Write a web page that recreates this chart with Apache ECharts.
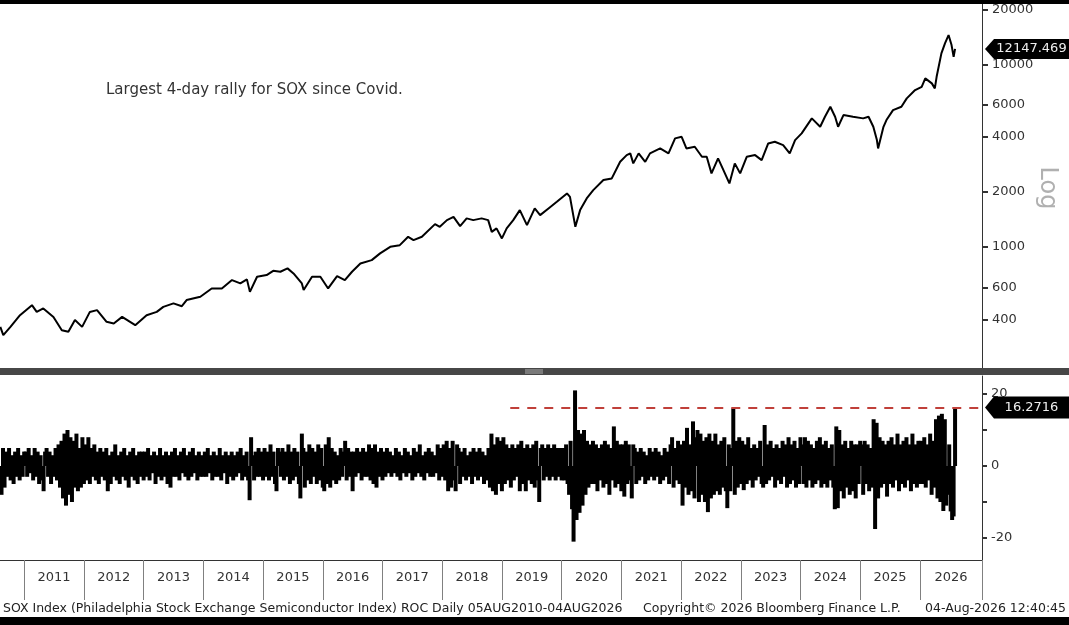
<!DOCTYPE html>
<html>
<head>
<meta charset="utf-8">
<script src="https://cdn.jsdelivr.net/npm/echarts@6.0.0/dist/echarts.min.js"></script>
<style>
html,body{margin:0;padding:0;background:#fff;}
#chart{width:1069px;height:625px;}
</style>
</head>
<body>
<div id="chart"></div>
<script>
// ---- Price (SOX index), dates in decimal years ----
const priceDates = [
2010.60,2010.65,2010.77,2010.93,2011.13,2011.21,2011.32,2011.49,2011.63,2011.74,2011.85,2011.97,
2012.10,2012.22,2012.38,2012.50,2012.64,2012.86,2013.05,2013.22,2013.33,2013.50,2013.64,2013.72,2013.95,
2014.14,2014.31,2014.48,2014.62,2014.73,2014.78,2014.90,2015.06,2015.17,2015.29,2015.41,2015.51,2015.65,2015.68,2015.82,2015.96,
2016.09,2016.24,2016.37,2016.49,2016.63,2016.82,2016.96,2017.13,2017.29,2017.43,2017.52,2017.66,2017.88,2017.96,
2018.08,2018.19,2018.30,2018.41,2018.52,2018.66,2018.77,2018.83,2018.91,2019.00,2019.08,2019.19,2019.30,2019.42,2019.55,2019.64,2019.78,2019.92,
2020.09,2020.14,2020.23,2020.31,2020.42,2020.53,2020.70,2020.84,2020.98,2021.09,2021.15,2021.20,2021.29,2021.40,2021.48,2021.65,2021.79,2021.90,
2022.01,2022.09,2022.23,2022.35,2022.43,2022.51,2022.62,2022.71,2022.81,2022.90,2022.99,2023.10,2023.24,2023.35,2023.46,2023.57,2023.71,2023.82,2023.91,
2024.02,2024.19,2024.33,2024.41,2024.50,2024.58,2024.63,2024.72,2024.88,2025.05,2025.14,2025.22,2025.28,2025.30,2025.39,2025.44,2025.55,2025.69,2025.78,2025.92,
2026.03,2026.09,2026.20,2026.25,2026.28,2026.36,2026.42,2026.48,2026.53,2026.565,2026.589
];
const priceValues = [
366,330,366,424,481,442,462,415,351,344,399,366,
442,452,390,382,415,374,424,442,471,492,475,513,535,
594,594,660,633,666,569,688,703,742,733,765,718,633,582,688,688,
594,694,660,733,814,849,924,1004,1025,1139,1092,1139,1336,1291,
1405,1465,1303,1436,1405,1436,1405,1212,1266,1116,1266,1405,1594,1320,1628,1497,1628,1770,
1967,1885,1291,1594,1847,2051,2327,2377,2930,3188,3258,2872,3258,2930,3258,3469,3258,3936,
4016,3469,3540,3121,3121,2532,3059,2639,2232,2872,2532,3121,3188,2994,3694,3771,3616,3258,3852,
4191,5064,4555,5167,5860,5167,4555,5279,5167,5064,5167,4555,3852,3469,4555,4957,5622,5860,6515,7234,
7541,8381,7870,7390,8553,11486,13026,14467,12756,11000,12147.469
];
const priceTicks = [400,600,1000,2000,4000,6000,10000,20000];
const priceMin = 218, priceMax = 21400;

// ---- 4-day ROC (%), one array per calendar year ----
const roc2010 = [-8,5,-6,4,-3,5,-4,3,-5,4,-3,5,-4,3,-3,4];
const roc2011 = [4,-3,5,-2,3,-4,5,-3,4,-5,3,-4,-7,4,5,-3,4,-5,3,-3,5,-4,6,-6,7,-9,9,-11,10,-8,8,-10,7,-6,9,-7,5,-6,8,-5];
const roc2012 = [6,-4,8,-5,5,-3,6,-4,4,-5,5,-3,4,-4,5,-7,3,-5,4,-3,6,-4,3,-5,4,-3,5,-4,3,-6,4,-3,5,-4,3,-5,4,-3,4,-4];
const roc2013 = [4,-3,5,-4,3,-2,4,-5,3,-3,5,-4,3,-3,4,-5,3,-6,4,-3,5,-3,3,-4,4,-2,5,-3,3,-4,4,-3,5,-2,3,-4,4,-3,3,-3];
const roc2014 = [4,-3,5,-2,3,-4,4,-3,3,-3,5,-4,3,-2,4,-5,3,-3,4,-4,3,-3,4,-2,5,-4,3,-3,4,-4,-9.5,8,3,-4,4,-3,5,-3,4,-4];
const roc2015 = [5,-3,4,-4,6,-3,4,-5,-7,5,4,-3,5,-4,4,-3,6,-5,4,-4,5,-3,4,-5,-9,9,5,-6,4,-4,6,-5,5,-3,4,-5,6,-4,5,-6];
const roc2016 = [-7,6,-5,8,-6,5,-4,4,-5,3,-4,5,-3,4,7,-4,5,-3,4,-7,4,-3,5,-2,4,-4,5,-3,4,-3,6,-4,5,-5,6,-6,4,-3,5,-4];
const roc2017 = [4,-3,5,-2,4,-3,3,-2,5,-3,4,-4,3,-2,5,-3,4,-2,3,-4,5,-3,4,-2,6,-3,3,-4,4,-2,5,-3,4,-3,3,-2,6,-4,5,-3];
const roc2018 = [6,-4,7,-7,5,-6,7,-4,-7,6,5,-5,4,-3,5,-4,3,-3,4,-5,5,-3,4,-4,5,-3,4,-5,3,-4,5,-6,9,-7,6,-8,8,-5,7,-7];
const roc2019 = [8,-5,6,-4,5,-6,6,-4,5,-3,6,-7,7,-5,5,-7,6,-4,5,-5,6,-6,7,-4,-10,5,6,-4,5,-3,6,-4,5,-3,6,-4,5,-3,5,-4];
const roc2020 = [5,-4,6,-5,-8,7,-12,-21,21,-15,10,-13,9,-11,10,-8,7,-6,6,-5,7,-5,6,-7,5,-4,6,-6,7,-5,6,-8,5,-4,11,-6,7,-5,6,-7];
const roc2021 = [6,-8.5,7,-5,6,-4,-9,6,5,-5,4,-4,5,-3,4,-5,3,-4,5,-3,4,-4,5,-3,4,-5,3,-4,5,-3,4,-5,6,8,-6,5,-4,7,-5,6];
const roc2022 = [-11,7,-6,10.6,-8,6,-7,12.4,-9,8,10,-10,9,-8,7,-10,8,-12.8,9,-9,7,-8,9,-7,6,-8,7,-6,8,-7,-11.7,6,-7,5,16,-8,7,-6,8,-5];
const roc2023 = [7,-6.7,6,-5,8,-4,5,-6,6,-4,5,-3,7,-5,-6,11.4,-5,6,-4,7,-3,5,-6,6,-4,5,-5,7,-3,6,-6,8,-5,6,-4,7,-6,5,-5,8];
const roc2024 = [6,-5,8,-6,7,-4,6,-6,5,-5,7,-4,8,-6,6,-5,7,-6,5,-4,6,-6,-12,11,-11.7,10,-7,6,-9,7,-6,5,-8,7,-7,6,-9,6,-5,7];
const roc2025 = [6,-8,7,-5,6,-7,5,-6,13,-17.5,12,-9,8,-6,7,-5,6,-8.5,7,-5,8,-6,6,-4,9,-7,6,-5,7,-6,8,-4,6,-7,9,-5,6,-6,7,-5];
const roc2026 = [7,-5,8,-6,6,-4,9,-8,7,-6,13,-9,14,-10,14.5,-12.5,13,-11,-8,6,-12.6,-15,-14,16.2716];
const rocYears = [2010,2011,2012,2013,2014,2015,2016,2017,2018,2019,2020,2021,2022,2023,2024,2025,2026];
const rocArrays = [roc2010,roc2011,roc2012,roc2013,roc2014,roc2015,roc2016,roc2017,roc2018,roc2019,roc2020,roc2021,roc2022,roc2023,roc2024,roc2025,roc2026];
const dataStart = 2010.595, dataEnd = 2026.589;   // 05AUG2010 - 04AUG2026
const dashFrom = 2019.14;
const axisMin = 2010.595, axisMax = 2027.04;
const yearTicks = [2011,2012,2013,2014,2015,2016,2017,2018,2019,2020,2021,2022,2023,2024,2025,2026];
const yearLabelPos = [2011.5,2012.5,2013.5,2014.5,2015.5,2016.5,2017.5,2018.5,2019.5,2020.5,2021.5,2022.5,2023.5,2024.5,2025.5,2026.52];
const rocTicks = [-20,-10,0,10,20];
const rocLabels = [-20,0,20];
const rocMin = -26.1, rocMax = 25.0;

// ---- build series data ----
const priceData = priceDates.map((d,i)=>[d, priceValues[i]]);
const rocData = [];
rocArrays.forEach((arr, k) => {
  const s = Math.max(rocYears[k], dataStart), e = Math.min(rocYears[k]+1, dataEnd);
  arr.forEach((v,i)=> rocData.push([s + (i+1)*(e-s)/arr.length, v]));
});
const lastPrice = priceValues[priceValues.length-1];
const lastRoc = rocData[rocData.length-1][1];

const FONT = 'DejaVu Sans';
const chart = echarts.init(document.getElementById('chart'), null, {renderer:'canvas'});
const option = {
  animation: false,
  backgroundColor: '#ffffff',
  grid: [
    {left: 0, right: 87, top: 4, height: 364},
    {left: 0, right: 87, top: 376, height: 184}
  ],
  xAxis: [
    {type:'value', gridIndex:0, min:axisMin, max:axisMax, show:false},
    {type:'value', gridIndex:1, min:axisMin, max:axisMax,
     axisLine:{show:true, onZero:false, lineStyle:{color:'#333', width:1}},
     axisTick:{show:true, customValues: yearTicks.concat([axisMax]), length:40, lineStyle:{color:'#808080', width:1}},
     axisLabel:{show:true, customValues: yearLabelPos, margin:11, color:'#333', fontFamily:FONT, fontSize:13,
       formatter: v => String(Math.floor(v))},
     splitLine:{show:false}}
  ],
  yAxis: [
    {type:'log', gridIndex:0, position:'right', min:priceMin, max:priceMax,
     axisLine:{show:true, lineStyle:{color:'#333', width:1}}, axisTick:{show:false}, axisLabel:{show:false}, splitLine:{show:false}},
    {type:'value', gridIndex:1, position:'right', min:rocMin, max:rocMax,
     axisLine:{show:true, onZero:false, lineStyle:{color:'#333', width:1}},
     axisTick:{show:true, customValues: rocTicks, length:5, lineStyle:{color:'#333', width:2}},
     axisLabel:{show:true, customValues: rocLabels, margin:9, color:'#333', fontFamily:FONT, fontSize:13},
     splitLine:{show:false}},
    {type:'value', gridIndex:0, position:'right', min:Math.log10(priceMin), max:Math.log10(priceMax),
     axisLine:{show:false},
     axisTick:{show:true, customValues: priceTicks.map(Math.log10), length:6, lineStyle:{color:'#333', width:2}},
     axisLabel:{show:true, customValues: priceTicks.map(Math.log10), margin:10, color:'#333', fontFamily:FONT, fontSize:13,
       formatter: v => String(Math.round(Math.pow(10, v)))},
     splitLine:{show:false}}
  ],
  series: [
    {type:'line', xAxisIndex:0, yAxisIndex:0, data: priceData, showSymbol:false, symbol:'none',
     lineStyle:{color:'#000', width:2}, z:3},
    {type:'bar', xAxisIndex:1, yAxisIndex:1, data: rocData, barWidth:4, itemStyle:{color:'#000'}, z:3,
     markLine:{silent:true, symbol:['none','none'], label:{show:false},
       lineStyle:{color:'#c0403a', type:[9,8], width:2},
       data:[[{coord:[dashFrom, lastRoc]},{coord:[axisMax, lastRoc]}]]}}
  ]
};
chart.setOption(option);

// ---- overlay graphics (positions of value tags come from the axes) ----
const ax = chart.convertToPixel({xAxisIndex:1}, axisMax);
const yP = chart.convertToPixel({yAxisIndex:0}, lastPrice);
const yR = chart.convertToPixel({yAxisIndex:1}, lastRoc);
function tag(y, text, h){
  return [
    {type:'polygon', z:100, shape:{points:[[ax+3,y],[ax+12,y-h/2],[1069,y-h/2],[1069,y+h/2],[ax+12,y+h/2]]}, style:{fill:'#000'}},
    {type:'text', z:101, x:ax+12+(1069-ax-12)/2, y:y, style:{text:text, fill:'#eeeeee', font:'13px "DejaVu Sans"', align:'center', verticalAlign:'middle'}}
  ];
}
chart.setOption({
  graphic: [
    {type:'rect', z:90, shape:{x:0,y:0,width:1069,height:4}, style:{fill:'#000'}},
    {type:'rect', z:90, shape:{x:0,y:617,width:1069,height:8}, style:{fill:'#000'}},
    {type:'rect', z:90, shape:{x:0,y:368,width:1069,height:7}, style:{fill:'#474747'}},
    {type:'rect', z:91, shape:{x:525,y:369,width:18,height:5}, style:{fill:'#7a7a7a'}},
    {type:'text', z:95, x:1047, y:188, rotation:-Math.PI/2,
     style:{text:'Log', fill:'#b0b0b0', font:'24px "DejaVu Sans"', align:'center', verticalAlign:'middle'}},
    {type:'text', z:95, x:106, y:90,
     style:{text:'Largest 4-day rally for SOX since Covid.', fill:'#333', font:'15px "DejaVu Sans"', align:'left', verticalAlign:'middle'}},
    {type:'text', z:95, x:3, y:609,
     style:{text:'SOX Index (Philadelphia Stock Exchange Semiconductor Index) ROC Daily 05AUG2010-04AUG2026', fill:'#222', font:'12.5px "DejaVu Sans"', align:'left', verticalAlign:'middle'}},
    {type:'text', z:95, x:643, y:609,
     style:{text:'Copyright\u00A9 2026 Bloomberg Finance L.P.', fill:'#222', font:'12.5px "DejaVu Sans"', align:'left', verticalAlign:'middle'}},
    {type:'text', z:95, x:1066, y:609,
     style:{text:'04-Aug-2026 12:40:45', fill:'#222', font:'12.5px "DejaVu Sans"', align:'right', verticalAlign:'middle'}}
  ].concat(tag(yP, lastPrice.toFixed(3), 20)).concat(tag(yR, String(lastRoc), 22))
});
</script>
</body>
</html>
